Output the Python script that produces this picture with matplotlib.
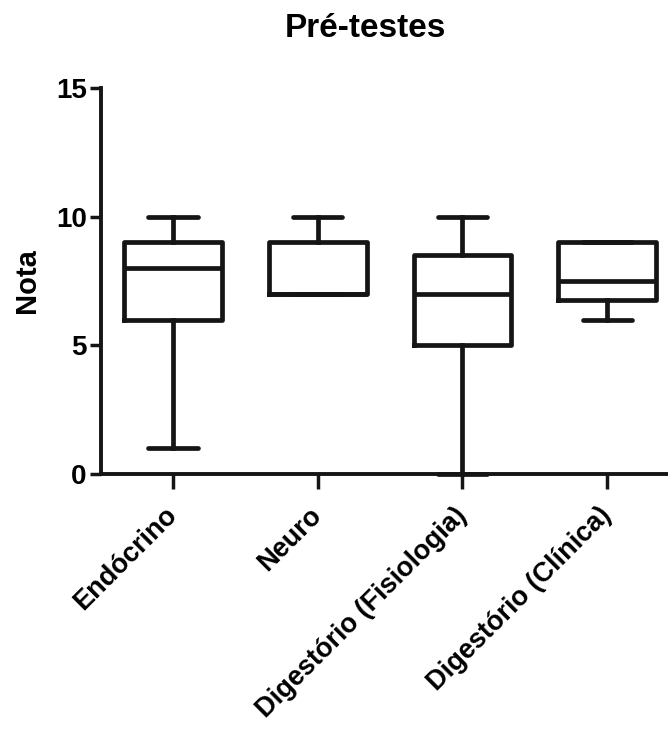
import matplotlib
matplotlib.use("Agg")
import matplotlib.pyplot as plt

categories = ["Endócrino", "Neuro", "Digestório (Fisiologia)", "Digestório (Clínica)"]
whisker_low = [1, 7, 0, 6]
q1 = [6, 7, 5, 6.75]
median = [8, 7, 7, 7.5]
q3 = [9, 9, 8.5, 9]
whisker_high = [10, 10, 10, 9]
yticks = [0, 5, 10, 15]

plt.rcParams['font.family'] = ['Liberation Sans', 'DejaVu Sans']
plt.rcParams['font.weight'] = 'bold'

fig = plt.figure(figsize=(6.68, 7.29), dpi=100)
W, H = 668, 729
ax = fig.add_axes([100.7 / W, (729 - 474) / H, 578.8 / W, 386 / H])

stats = []
for i, c in enumerate(categories):
    stats.append(dict(label=c, whislo=whisker_low[i], q1=q1[i], med=median[i],
                      q3=q3[i], whishi=whisker_high[i], fliers=[]))

col = '#151515'
lw = 3.4
res = ax.bxp(stats, positions=range(1, len(categories) + 1), widths=0.675,
             capwidths=0.34, showfliers=False, patch_artist=False,
             boxprops=dict(color=col, linewidth=lw, solid_joinstyle='round'),
             medianprops=dict(color=col, linewidth=lw),
             whiskerprops=dict(color=col, linewidth=lw),
             capprops=dict(color=col, linewidth=lw, solid_capstyle='round'))
for k in ['boxes', 'medians', 'whiskers', 'caps']:
    for a in res[k]:
        a.set_clip_on(False)

ax.set_xlim(0.5, 4.5)
ax.set_ylim(0, 15)
ax.set_yticks(yticks)
ax.set_yticklabels([str(v) for v in yticks], fontsize=20, fontweight='bold')
ax.set_xticks(range(1, len(categories) + 1))
ax.set_xticklabels(categories, rotation=45, ha='right', va='center',
                   rotation_mode='anchor', fontsize=19.5, fontweight='bold')
for s in ['top', 'right']:
    ax.spines[s].set_visible(False)
for s in ['left', 'bottom']:
    ax.spines[s].set_linewidth(2.8)
    ax.spines[s].set_color(col)
ax.tick_params(axis='y', length=8, width=2.5, color=col, pad=2)
ax.tick_params(axis='x', length=11, width=2.5, color=col, pad=16)
ax.set_ylabel("Nota", fontsize=21, fontweight='bold', labelpad=11)
fig.text(365 / W, 1 - 37 / H, "Pré-testes", ha='center', va='baseline',
         fontsize=24, fontweight='bold')

fig.savefig("out.png", dpi=100)
